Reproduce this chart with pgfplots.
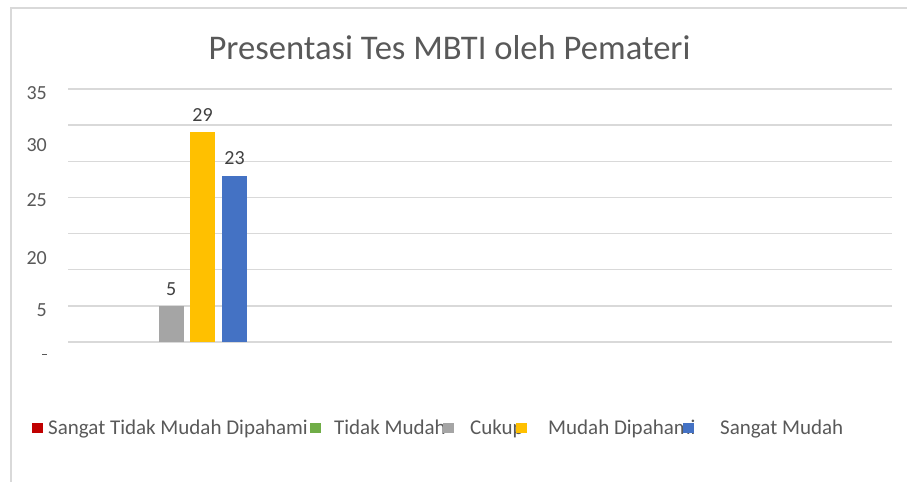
\documentclass[border=0pt]{standalone}
\usepackage{fontspec}
\setmainfont{Carlito}
\usepackage{pgfplots}
\pgfplotsset{compat=1.18}
\definecolor{txt}{HTML}{595959}
\definecolor{lbl}{HTML}{404040}
\definecolor{gridc}{HTML}{D9D9D9}
\definecolor{cred}{HTML}{C00000}
\definecolor{cgreen}{HTML}{70AD47}
\definecolor{cgray}{HTML}{A5A5A5}
\definecolor{cyellow}{HTML}{FFC000}
\definecolor{cblue}{HTML}{4472C4}
\begin{document}
\begin{tikzpicture}
\useasboundingbox (0,0) rectangle (907bp,482bp);
\draw[color=gridc, line width=1.2bp] (11bp,0) -- (11bp,474bp) -- (907bp,474bp);
\begin{axis}[
  at={(68bp,140bp)}, anchor=south west,
  scale only axis, width=824bp, height=253bp,
  xmin=68, xmax=892, ymin=0, ymax=35,
  xtick=\empty,
  ytick={0,5,...,35}, yticklabels={,,,,,,,},
  extra y ticks={34.5,27.3,19.6,11.6,4.36},
  extra y tick labels={35,30,25,20,5},
  extra y tick style={grid=none},
  ymajorgrids, major grid style={color=gridc, line width=1.3bp},
  axis line style={draw=none},
  major tick length=0pt,
  /pgf/number format/assume math mode=true,
  yticklabel style={font=\fontsize{20bp}{24bp}\selectfont, color=txt, inner sep=0pt, anchor=east, xshift=-21bp},
  clip=false,
  title={Presentasi Tes MBTI oleh Pemateri},
  title style={at={(axis description cs:0.463,1.0949)}, anchor=base, font=\fontsize{34.6bp}{40bp}\selectfont, color=txt, inner sep=0pt},
  legend style={at={(axis description cs:-0.0437,-0.34)}, anchor=west, draw=none, fill=none, inner sep=0pt, font=\fontsize{21bp}{25bp}\selectfont, text=txt, column sep=0pt, nodes={inner sep=0pt}},
  legend cell align=left,
  legend columns=5,
  legend image code/.code={\fill[#1] (0bp,-5bp) rectangle (11bp,5bp);},
  every node near coord/.append style={font=\fontsize{20bp}{24bp}\selectfont, color=lbl, inner sep=0pt, yshift=10.5bp},
]
\addplot[ybar, bar width=25, bar shift=0pt, fill=none, draw=none,
  legend image code/.code={\fill[cred] (0bp,-5bp) rectangle (11bp,5bp);}] coordinates {(108,0)};
\addplot[ybar, bar width=25, bar shift=0pt, fill=none, draw=none,
  legend image code/.code={\fill[cgreen] (0bp,-5bp) rectangle (11bp,5bp);}] coordinates {(140,0)};
\addplot[ybar, bar width=25, bar shift=0pt, fill=cgray, draw=none, nodes near coords] coordinates {(171.3,5)};
\addplot[ybar, bar width=25, bar shift=0pt, fill=cyellow, draw=none, nodes near coords] coordinates {(202.5,29)};
\addplot[ybar, bar width=25, bar shift=0pt, fill=cblue, draw=none, nodes near coords] coordinates {(234.5,23)};
\legend{{\makebox[267bp][l]{\hspace{5bp}Sangat Tidak Mudah Dipahami}},
        {\makebox[122bp][l]{\hspace{13bp}Tidak Mudah}},
        {\makebox[62bp][l]{\hspace{16bp}Cukup}},
        {\makebox[156bp][l]{\hspace{21bp}Mudah Dipahami}},
        {\hspace{26bp}Sangat Mudah}}
\node[anchor=east, inner sep=0pt, fill=txt, minimum width=5bp, minimum height=1bp] at (axis description cs:-0.0255,-0.05) {};
\end{axis}
\end{tikzpicture}
\end{document}
